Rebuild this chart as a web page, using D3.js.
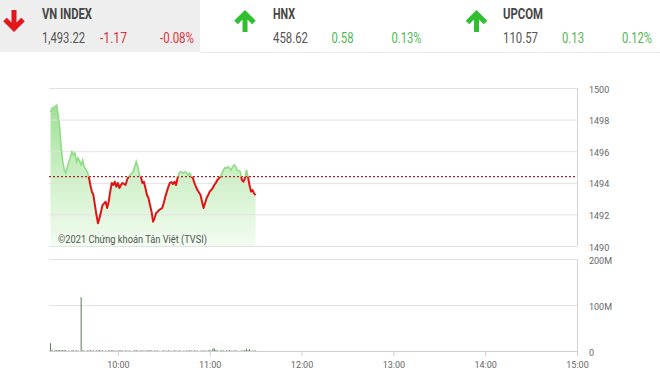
<!DOCTYPE html>
<html><head><meta charset="utf-8">
<script src="https://cdn.jsdelivr.net/npm/d3@7"></script>
<style>body{margin:0;background:#fff}svg{display:block;font-family:Roboto,"Noto Sans",sans-serif}</style>
</head><body><svg id="c" width="660" height="382"></svg>
<script>
// ---------- data ----------
const indexNames = ["VN INDEX", "HNX", "UPCOM"];
const indexValues = ["1,493.22", "458.62", "110.57"];
const indexChanges = ["-1.17", "0.58", "0.13"];
const indexPcts = ["-0.08%", "0.13%", "0.12%"];
const indexDirections = ["down", "up", "up"];
const refValue = 1494.39;

const times = [
"09:16","09:17","09:19","09:20","09:21","09:22","09:23","09:24","09:25","09:26",
"09:28","09:30","09:31","09:32","09:33","09:34","09:36","09:37","09:38","09:40",
"09:41","09:42","09:43","09:44","09:45","09:46","09:47","09:48","09:49","09:50",
"09:52","09:53","09:54","09:55","09:56","09:57","09:58","09:59","10:00","10:01",
"10:02","10:03","10:05","10:06","10:07","10:08","10:10","10:11","10:12","10:13",
"10:14","10:15","10:16","10:17","10:18","10:19","10:20","10:21","10:22","10:23",
"10:24","10:25","10:26","10:27","10:29","10:30","10:31","10:32","10:33","10:34",
"10:35","10:36","10:37","10:38","10:39","10:40","10:41","10:43","10:44","10:45",
"10:46","10:47","10:48","10:49","10:50","10:51","10:52","10:54","10:55","10:56",
"10:57","10:58","10:59","11:00","11:01","11:02","11:03","11:04","11:05","11:07",
"11:08","11:09","11:10","11:11","11:12","11:13","11:14","11:15","11:16","11:17",
"11:18","11:20","11:21","11:22","11:23","11:24","11:25","11:26","11:27","11:28",
"11:29","11:30"];

const prices = [
1498.48,1498.73,1498.82,1498.92,1498.29,1497.47,1496.20,1495.34,1494.81,1494.62,
1495.34,1495.97,1495.76,1495.89,1495.34,1495.57,1495.13,1495.44,1495.02,1494.70,
1494.39,1493.86,1493.44,1493.23,1492.59,1491.96,1491.44,1491.77,1492.17,1492.59,
1492.80,1492.41,1492.80,1493.44,1493.99,1493.86,1494.07,1493.75,1493.99,1493.67,
1493.86,1493.99,1493.86,1494.18,1494.39,1494.49,1494.70,1495.02,1495.34,1495.02,
1494.49,1494.39,1493.99,1494.07,1493.67,1493.23,1493.04,1492.59,1492.17,1491.54,
1491.77,1492.09,1492.17,1492.28,1492.41,1492.72,1493.12,1493.44,1493.75,1493.99,
1494.05,1493.92,1494.07,1493.86,1494.30,1494.62,1494.70,1494.62,1494.70,1494.62,
1494.49,1494.62,1494.39,1494.30,1493.99,1493.75,1493.54,1493.23,1492.80,1492.41,
1492.72,1493.04,1493.23,1493.44,1493.54,1493.67,1493.86,1493.99,1494.18,1494.39,
1494.60,1494.81,1494.96,1494.92,1495.02,1494.92,1494.81,1495.02,1495.13,1495.02,
1494.81,1494.70,1494.18,1494.07,1494.28,1494.81,1494.39,1493.86,1493.44,1493.54,
1493.33,1493.22];

// volume in millions of shares, per time point
const volumes = [
17,2.5,2,2,1.5,2,1.5,2,1.5,2,
1.5,2,1.5,1,1.5,1,117,1.5,1,1.5,
1,2,1,1.5,0.5,1.5,1,2,1,1.5,
1,0.5,1.5,1,2,1.5,1,0.5,1.5,1,
2,1,1.5,1,0.5,1.5,1,1.5,2,1,
0.5,1.5,1,1,0.5,1.5,1,2,1,0.5,
1.5,1,1,0.5,1,1.5,0.5,1,1.5,1,
0.5,1,1.5,1,0.5,1.5,1,1,0.5,1.5,
1,2,1,0.5,1.5,1,1,0.5,1.5,1,
1,0.5,1.5,2,1,5,6,2,1.5,1,
2,1,0.5,1.5,1,2,1,0.5,1.5,1,
1,0.5,1.5,1,2,5,1.5,4,1,0.5,
1.5,1];

const priceTicks = [1490, 1492, 1494, 1496, 1498, 1500];
const volumeTicks = [0, 100, 200];
const volumeTickLabels = ["0", "100M", "200M"];
const timeTicks = ["10:00", "11:00", "12:00", "13:00", "14:00", "15:00"];
const sessionStart = "09:15", sessionEnd = "15:00";
const watermark = "©2021 Chứng khoán Tân Việt (TVSI)";

// ---------- drawing ----------
const svg = d3.select("#c");
const parse = d3.timeParse("%H:%M");
const data = times.map((t, i) => ({t: parse(t), v: prices[i], vol: volumes[i]}));

const L = 49, R = 577;
const x = d3.scaleTime().domain([parse(sessionStart), parse(sessionEnd)]).range([L, R]);
const y = d3.scaleLinear().domain([1490, 1500]).range([246, 88]);
const yv = d3.scaleLinear().domain([0, 200]).range([351, 259]);

// header
svg.append("rect").attr("x", 0).attr("y", 0).attr("width", 200).attr("height", 52).attr("fill", "#eeeeee");
svg.append("line").attr("x1", 200).attr("x2", 660).attr("y1", 52.5).attr("y2", 52.5).attr("stroke", "#ececec");
const base = [0, 231, 461];
const arrowCx = [14, 14, 15.5];
const nameW = [50, 22, 40], valW = [43, 35, 35], chW = [27, 22, 22], pctW = [34, 30, 30];
indexNames.forEach((n, i) => {
  const g = svg.append("g").attr("transform", `translate(${base[i]},0)`);
  const up = indexDirections[i] === "up";
  const col = up ? "#2fc02f" : "#e3161e";
  const cx = arrowCx[i];
  const p = up
    ? `M${cx},32 L${cx},14 M${cx-9},22.5 L${cx},13.5 L${cx+9},22.5`
    : `M${cx},10 L${cx},28 M${cx-9},19.5 L${cx},28.5 L${cx+9},19.5`;
  g.append("path").attr("d", p).attr("fill", "none").attr("stroke", col)
    .attr("stroke-width", 5).attr("stroke-linejoin", "miter").attr("stroke-linecap", "butt");
  g.append("text").attr("x", 42).attr("y", 18.5).attr("font-size", 14).attr("font-weight", "bold")
    .attr("fill", "#454545").attr("textLength", nameW[i]).attr("lengthAdjust", "spacingAndGlyphs").text(n);
  const vc = up ? "#4fb84f" : "#d8343c";
  g.append("text").attr("x", 42).attr("y", 43).attr("font-size", 14).attr("fill", "#555")
    .attr("textLength", valW[i]).attr("lengthAdjust", "spacingAndGlyphs").text(indexValues[i]);
  g.append("text").attr("x", 100 + i * 0.5).attr("y", 43).attr("font-size", 14).attr("fill", vc)
    .attr("textLength", chW[i]).attr("lengthAdjust", "spacingAndGlyphs").text(indexChanges[i]);
  g.append("text").attr("x", 160 + i * 0.5).attr("y", 43).attr("font-size", 14).attr("fill", vc)
    .attr("textLength", pctW[i]).attr("lengthAdjust", "spacingAndGlyphs").text(indexPcts[i]);
});

// gradient
const defs = svg.append("defs");
const grad = defs.append("linearGradient").attr("id", "ag").attr("gradientUnits", "userSpaceOnUse")
  .attr("x1", 0).attr("x2", 0).attr("y1", y(1499)).attr("y2", y(1490));
grad.append("stop").attr("offset", 0).attr("stop-color", "#9fe096");
grad.append("stop").attr("offset", 0.5).attr("stop-color", "#cdf0c6");
grad.append("stop").attr("offset", 1).attr("stop-color", "#f3fcf1");
defs.append("clipPath").attr("id", "above").append("rect")
  .attr("x", 0).attr("y", 0).attr("width", 660).attr("height", y(refValue));
defs.append("clipPath").attr("id", "below").append("rect")
  .attr("x", 0).attr("y", y(refValue)).attr("width", 660).attr("height", 382 - y(refValue));

// area
svg.append("path").datum(data)
  .attr("d", d3.area().x(d => x(d.t)).y0(y(1490)).y1(d => y(d.v)))
  .attr("fill", "url(#ag)");

// price gridlines
svg.append("g").attr("transform", `translate(${L},0)`)
  .call(d3.axisRight(y).tickValues(priceTicks).tickSize(R - L).tickFormat(""))
  .call(g => g.select(".domain").remove())
  .call(g => g.selectAll("line").attr("stroke", "#e2e2e2"));
svg.append("line").attr("x1", R + 0.5).attr("x2", R + 0.5).attr("y1", y(1500)).attr("y2", y(1490))
  .attr("stroke", "#d4d4d4");
svg.append("g").attr("transform", `translate(${R},0)`)
  .call(d3.axisRight(y).tickValues(priceTicks).tickSize(0).tickPadding(12).tickFormat(d3.format("d")))
  .call(g => g.select(".domain").remove())
  .call(g => g.selectAll("text").attr("fill", "#666").attr("font-size", 9).attr("dy", "0.45em")
    .attr("font-family", "Roboto, sans-serif"));

// watermark
svg.append("text").attr("x", 58).attr("y", 243).attr("font-size", 10.5).attr("fill", "#555")
  .attr("textLength", 149).attr("lengthAdjust", "spacingAndGlyphs").text(watermark);

// reference line
svg.append("line").attr("x1", L).attr("x2", R).attr("y1", y(refValue)).attr("y2", y(refValue))
  .attr("stroke", "#a3262a").attr("stroke-dasharray", "2,2").attr("stroke-width", 1.2);

// price line
const line = d3.line().x(d => x(d.t)).y(d => y(d.v));
svg.append("path").datum(data).attr("d", line).attr("fill", "none")
  .attr("stroke", "#8fdc86").attr("stroke-width", 1.6).attr("clip-path", "url(#above)");
svg.append("path").datum(data).attr("d", line).attr("fill", "none")
  .attr("stroke", "#e01414").attr("stroke-width", 2).attr("stroke-linejoin", "round").attr("clip-path", "url(#below)");

// volume chart
svg.append("g").attr("transform", `translate(${L},0)`)
  .call(d3.axisRight(yv).tickValues(volumeTicks).tickSize(R - L).tickFormat(""))
  .call(g => g.select(".domain").remove())
  .call(g => g.selectAll("line").attr("stroke", "#e2e2e2"));
svg.append("line").attr("x1", R + 0.5).attr("x2", R + 0.5).attr("y1", yv(200)).attr("y2", yv(0))
  .attr("stroke", "#d4d4d4");
svg.append("g").attr("transform", `translate(${R},0)`)
  .call(d3.axisRight(yv).tickValues(volumeTicks).tickSize(0).tickPadding(12)
    .tickFormat((d, i) => volumeTickLabels[i]))
  .call(g => g.select(".domain").remove())
  .call(g => g.selectAll("text").attr("fill", "#666").attr("font-size", 9).attr("dy", "0.45em")
    .attr("font-family", "Roboto, sans-serif"));

svg.append("g").selectAll("rect").data(data).join("rect")
  .attr("x", d => x(d.t) - 0.5).attr("width", 1)
  .attr("y", d => yv(d.vol)).attr("height", d => yv(0) - yv(d.vol))
  .attr("fill", "#5d7a5a");

svg.append("g").attr("transform", `translate(0,${yv(0)})`)
  .call(d3.axisBottom(x).tickValues(timeTicks.map(parse)).tickSize(5).tickPadding(6)
    .tickFormat(d3.timeFormat("%H:%M")))
  .call(g => g.select(".domain").attr("stroke", "#d0d0d0").attr("d", `M${L},0.5H${R}`))
  .call(g => g.selectAll("line").attr("stroke", "#cfcfcf"))
  .call(g => g.selectAll("text").attr("fill", "#666").attr("font-size", 9)
    .attr("font-family", "Roboto, sans-serif"));
</script></body></html>
